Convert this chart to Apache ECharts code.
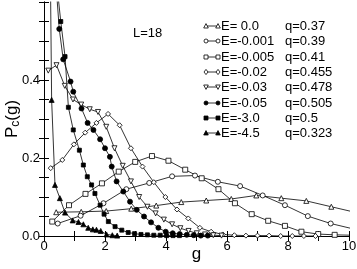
<!DOCTYPE html>
<html>
<head>
<meta charset="utf-8">
<script src="https://cdn.jsdelivr.net/npm/echarts@6/dist/echarts.min.js"></script>
<style>html,body{margin:0;padding:0;background:#fff}#c{width:357px;height:269px}</style>
</head>
<body>
<div id="c"></div>
<script>
var legendE = ['E= 0.0','E=-0.001','E=-0.005','E=-0.02','E=-0.03','E=-0.05','E=-3.0','E=-4.5'];
var legendQ = ['q=0.37','q=0.39','q=0.41','q=0.455','q=0.478','q=0.505','q=0.5','q=0.323'];
var xTicks = [0,2,4,6,8,10];
var yTicks = [0.0,0.2,0.4];

var sE0 = [[0.4,0.061],[1.22,0.062],[2.04,0.064],[2.86,0.070],[3.68,0.078],[4.5,0.087],[5.32,0.091],[6.14,0.095],[6.96,0.104],[7.78,0.097],[8.6,0.09],[9.42,0.075],[10.24,0.06]];
var sE001 = [[0.45,0.032],[1.2,0.052],[1.95,0.084],[2.7,0.12],[3.45,0.136],[4.2,0.153],[4.95,0.155],[5.7,0.139],[6.43,0.128],[7.17,0.104],[7.9,0.079],[8.65,0.051],[9.4,0.032],[10.15,0.018]];
var sE005 = [[0.27,0.037],[0.82,0.079],[1.36,0.108],[1.9,0.135],[2.45,0.165],[2.99,0.19],[3.54,0.205],[4.08,0.193],[4.63,0.17],[5.17,0.148],[5.72,0.12],[6.26,0.084],[6.81,0.056],[7.35,0.039],[7.9,0.026],[8.44,0.011],[8.99,0.005],[9.53,0.003],[10.08,0.002]];
var sE02 = [[0.22,0.174],[0.6,0.195],[0.98,0.235],[1.35,0.265],[1.72,0.29],[2.1,0.313],[2.48,0.284],[2.85,0.225],[3.23,0.178],[3.6,0.138],[3.98,0.1],[4.36,0.068],[4.73,0.045],[5.11,0.021],[5.48,0.011],[5.86,0.004],[6.24,0.002],[6.62,0.001],[7.0,0.001],[7.38,0.001],[7.76,0.0],[8.14,0.0],[8.52,0.0],[8.9,0.0]];
var sE03 = [[0.14,0.424],[0.41,0.438],[0.68,0.385],[0.95,0.35],[1.22,0.337],[1.5,0.325],[1.77,0.318],[2.04,0.28],[2.31,0.225],[2.58,0.18],[2.85,0.14],[3.12,0.1],[3.39,0.075],[3.66,0.058],[3.93,0.042],[4.2,0.03],[4.47,0.02],[4.74,0.013],[5.01,0.007],[5.28,0.004],[5.55,0.002],[5.82,0.001]];
var sE05 = [[0.36,0.68],[0.5,0.531],[0.63,0.453],[0.87,0.396],[0.96,0.37],[1.23,0.327],[1.43,0.29],[1.62,0.272],[1.84,0.248],[2.0,0.225],[2.16,0.203],[2.22,0.178],[2.38,0.14],[2.6,0.114],[2.82,0.088],[3.04,0.067],[3.28,0.05],[3.51,0.035],[3.75,0.021],[3.99,0.011],[4.22,0.007],[4.45,0.005],[4.68,0.003],[4.91,0.002],[5.14,0.001],[5.37,0.001]];
var sE30 = [[0.4,0.66],[0.55,0.55],[0.69,0.46],[0.8,0.33],[0.96,0.272],[1.16,0.22],[1.29,0.182],[1.42,0.152],[1.56,0.131],[1.67,0.109],[1.84,0.079],[1.97,0.056],[2.11,0.037],[2.33,0.024],[2.55,0.015],[2.76,0.009],[2.97,0.006],[3.18,0.004],[3.39,0.003],[3.6,0.002],[3.81,0.002],[4.02,0.001],[4.23,0.001],[4.44,0.001]];
var sE45 = [[0.2,0.75],[0.25,0.349],[0.36,0.131],[0.52,0.097],[0.69,0.06],[0.94,0.04],[1.13,0.036],[1.29,0.03],[1.45,0.021],[1.6,0.017],[1.72,0.016],[1.86,0.013],[2.05,0.004],[2.24,0.002],[2.4,0.001]];

var seriesData = [sE0,sE001,sE005,sE02,sE03,sE05,sE30,sE45];
var symbols = ['triangle','circle','rect','diamond','triangle','circle','rect','triangle'];
var rotates = [0,0,0,0,180,0,0,0];
var filled = [false,false,false,false,false,true,true,true];
var sizes = [5,5,5,5,5,5,4,5];

var series = seriesData.map(function(d,i){
  return {
    name: legendE[i], type:'line', data:d, symbol:symbols[i], symbolRotate:rotates[i],
    symbolSize:sizes[i], showSymbol:true, clip:true,
    lineStyle:{color:'#000',width:0.8},
    itemStyle:{color: filled[i]?'#000':'#fff', borderColor:'#000', borderWidth:0.8},
    animation:false
  };
});

var font = 'Liberation Sans';
function markerShape(i, cx, cy){
  var st = {fill: filled[i]?'#000':'#fff', stroke:'#000', lineWidth:0.8};
  var r = 2;
  var s = symbols[i];
  if (s==='circle') return {type:'circle', shape:{cx:cx,cy:cy,r:r}, style:st, z:10};
  if (s==='rect') return {type:'rect', shape:{x:cx-r,y:cy-r,width:2*r,height:2*r}, style:st, z:10};
  if (s==='diamond') return {type:'polygon', shape:{points:[[cx,cy-r-0.6],[cx+r,cy],[cx,cy+r+0.6],[cx-r,cy]]}, style:st, z:10};
  var d = rotates[i]===180 ? -1 : 1;
  return {type:'polygon', shape:{points:[[cx,cy-d*(r+0.4)],[cx+r+0.3,cy+d*r],[cx-r-0.3,cy+d*r]]}, style:st, z:10};
}
var graphics = [{type:'text',x:133,y:33,style:{text:'L=18',fill:'#000',font:'13px '+font,verticalAlign:'middle'}}];
var lx0 = 206, lx1 = 218, ly0 = 26, lstep = 15.3;
legendE.forEach(function(n,i){
  var y = Math.round(ly0 + i*lstep);
  graphics.push({type:'line', shape:{x1:lx0,y1:y,x2:lx1,y2:y}, style:{stroke:'#000',lineWidth:0.8}, z:9});
  graphics.push(markerShape(i,lx0,y));
  graphics.push(markerShape(i,lx1,y));
  graphics.push({type:'text', x:221, y:y, style:{text:n, fill:'#000', font:'13px '+font, verticalAlign:'middle'}, z:10});
  graphics.push({type:'text', x:285, y:y, style:{text:legendQ[i], fill:'#000', font:'13px '+font, verticalAlign:'middle'}, z:10});
});

var chart = echarts.init(document.getElementById('c'));
var axisLineStyle = {lineStyle:{color:'#000',width:1}};
chart.setOption({
  backgroundColor:'#fff',
  animation:false,
  grid:{left:44,right:8,top:2,bottom:33,containLabel:false,outerBoundsMode:'none'},
  xAxis:[{
    type:'value',min:0,max:10,interval:1,
    axisLine:axisLineStyle,
    axisTick:{inside:true,length:5,lineStyle:{color:'#000'}},
    splitLine:{show:false},
    axisLabel:{color:'#000',fontFamily:font,fontSize:13,margin:4,
      formatter:function(v){return xTicks.indexOf(v)>=0?String(v):'';}},
    name:'g',nameLocation:'middle',nameGap:10,nameMoveOverlap:false,
    nameTextStyle:{color:'#000',fontFamily:font,fontSize:17,verticalAlign:'top'}
  },{
    type:'value',min:0,max:10,interval:1,position:'top',
    axisLine:axisLineStyle,axisTick:{inside:true,length:5,lineStyle:{color:'#000'}},
    axisLabel:{show:false},splitLine:{show:false}
  }],
  yAxis:[{
    type:'value',min:0,max:0.6,interval:0.05,
    axisLine:axisLineStyle,
    axisTick:{inside:true,length:5,lineStyle:{color:'#000'}},
    splitLine:{show:false},
    axisLabel:{color:'#000',fontFamily:font,fontSize:13,margin:4,
      formatter:function(v){
        for(var k=0;k<yTicks.length;k++){ if(Math.abs(v-yTicks[k])<1e-6) return yTicks[k].toFixed(1);} return '';}},
    name:'{a|P}{b|c}{a|(g)}',nameLocation:'middle',nameGap:22,nameRotate:90,nameMoveOverlap:false,
    nameTextStyle:{color:'#000',fontFamily:font,
      rich:{a:{fontSize:17,fontFamily:font,color:'#000'},b:{fontSize:12,fontFamily:font,color:'#000',verticalAlign:'bottom',padding:[8,0,0,0]}}}
  },{
    type:'value',min:0,max:0.6,interval:0.05,position:'right',
    axisLine:axisLineStyle,axisTick:{inside:true,length:5,lineStyle:{color:'#000'}},
    axisLabel:{show:false},splitLine:{show:false}
  }],
  graphic:graphics,
  series:series
});
</script>
</body>
</html>
